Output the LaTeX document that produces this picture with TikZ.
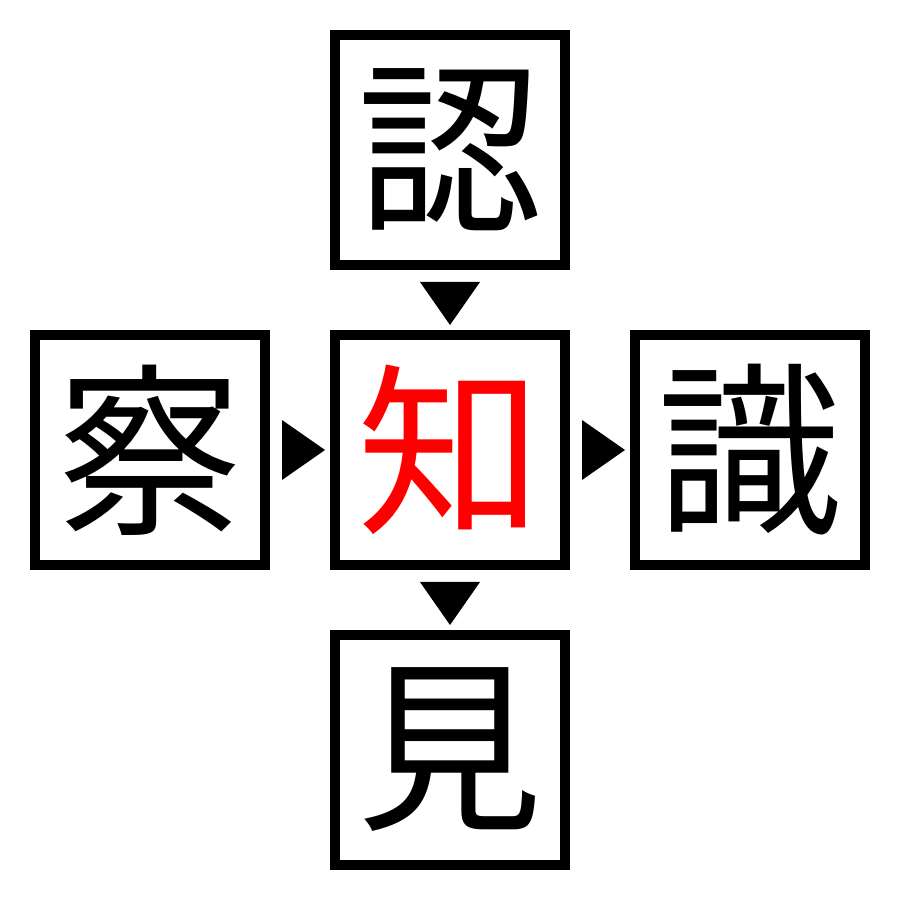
\documentclass[tikz,border=0pt]{standalone}
\usepackage{fontspec}
\newfontfamily\cjk{Noto Sans CJK JP}
\usetikzlibrary{calc}
\tikzset{
  kbox/.style={draw=black, line width=10pt, minimum size=230pt, inner sep=0pt, outer sep=0pt,
    font=\cjk\fontsize{185}{185}\selectfont, text=black},
  tri/.style={fill=black}
}
\begin{document}
\begin{tikzpicture}[x=1pt,y=1pt]
\useasboundingbox (0,0) rectangle (900,900);
\fill[white] (0,0) rectangle (900,900);
\node[kbox] (t) at (450,750) {認};
\node[kbox] (l) at (150,450) {察};
\node[kbox, text=red] (c) at (450,450) {知};
\node[kbox] (r) at (750,450) {識};
\node[kbox] (b) at (450,150) {見};
% arrowheads
\fill[tri] ($(c)+(-30,168)$) -- ($(c)+(30,168)$) -- ($(c)+(0,125)$) -- cycle;
\fill[tri] ($(c)+(-168,30)$) -- ($(c)+(-168,-30)$) -- ($(c)+(-125,0)$) -- cycle;
\fill[tri] ($(c)+(132,30)$) -- ($(c)+(132,-30)$) -- ($(c)+(175,0)$) -- cycle;
\fill[tri] ($(c)+(-30,-132)$) -- ($(c)+(30,-132)$) -- ($(c)+(0,-175)$) -- cycle;
\end{tikzpicture}
\end{document}
